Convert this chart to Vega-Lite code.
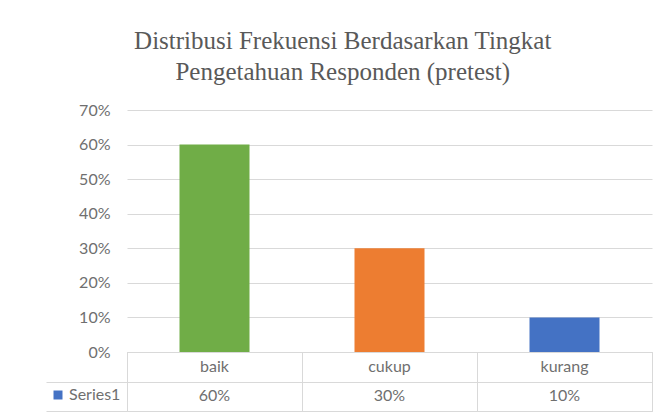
{
  "$schema": "https://vega.github.io/schema/vega-lite/v6.json",
  "padding": {"left": 45, "top": 29, "right": 10, "bottom": 3},
  "background": "white",
  "title": {
    "text": ["Distribusi Frekuensi Berdasarkan Tingkat", "Pengetahuan Responden (pretest)"],
    "font": "Liberation Serif",
    "fontSize": 25,
    "fontWeight": "normal",
    "color": "#595959",
    "lineHeight": 31,
    "offset": 17,
    "dx": -6,
    "anchor": "middle"
  },
  "datasets": {
    "d": [
      {"kategori": "baik", "persen": 0.6},
      {"kategori": "cukup", "persen": 0.3},
      {"kategori": "kurang", "persen": 0.1}
    ]
  },
  "spacing": 0,
  "bounds": "flush",
  "resolve": {"scale": {"fill": "independent", "color": "independent"}, "legend": {"fill": "independent"}},
  "vconcat": [
    {
      "width": 525,
      "height": 242,
      "view": {"stroke": null},
      "data": {"name": "d"},
      "mark": {"type": "bar"},
      "encoding": {
        "x": {
          "field": "kategori",
          "type": "nominal",
          "scale": {"paddingInner": 0.6, "paddingOuter": 0.3},
          "axis": null
        },
        "y": {
          "field": "persen",
          "type": "quantitative",
          "scale": {"domain": [0, 0.7], "nice": false},
          "axis": {
            "values": [0, 0.1, 0.2, 0.3, 0.4, 0.5, 0.6, 0.7],
            "format": ".0%",
            "title": null,
            "domain": false,
            "ticks": false,
            "labelPadding": 17,
            "gridColor": "#d9d9d9",
            "labelFont": "Lato",
            "labelFontSize": 16,
            "labelColor": "#6f6f6f"
          }
        },
        "color": {
          "field": "kategori",
          "type": "nominal",
          "scale": {"range": ["#70AD47", "#ED7D31", "#4472C4"]},
          "legend": null
        }
      }
    },
    {
      "width": 525,
      "height": 59,
      "view": {"stroke": "#d9d9d9"},
      "data": {"name": "d"},
      "layer": [
        {
          "mark": {"type": "text", "font": "Lato", "fontSize": 16, "color": "#6f6f6f"},
          "encoding": {
            "x": {
              "field": "kategori",
              "type": "nominal",
              "scale": {"type": "band", "paddingInner": 0, "paddingOuter": 0},
              "axis": {
                "title": null,
                "labels": false,
                "ticks": false,
                "domain": false,
                "grid": true,
                "tickBand": "extent",
                "gridColor": "#d9d9d9"
              }
            },
            "y": {
              "datum": "cat",
              "type": "nominal",
              "scale": {"type": "band", "domain": ["cat", "val"], "paddingInner": 0, "paddingOuter": 0},
              "axis": {
                "title": null,
                "labels": false,
                "domain": false,
                "grid": true,
                "tickBand": "extent",
                "gridColor": "#d9d9d9",
                "ticks": true,
                "tickSize": 81,
                "tickColor": "#d9d9d9",
                "tickOpacity": {"condition": {"test": "datum.value == null", "value": 0}, "value": 1}
              }
            },
            "text": {"field": "kategori"}
          }
        },
        {
          "mark": {"type": "text", "font": "Lato", "fontSize": 16, "color": "#6f6f6f"},
          "encoding": {
            "x": {"field": "kategori", "type": "nominal"},
            "y": {"datum": "val", "type": "nominal"},
            "text": {"field": "persen", "format": ".0%"}
          }
        },
        {
          "mark": {"type": "square", "opacity": 0},
          "encoding": {
            "y": {"datum": "val", "type": "nominal"},
            "fill": {
              "datum": "Series1",
              "scale": {"range": ["#4472C4"]},
              "legend": {
                "orient": "none",
                "legendX": -77,
                "legendY": 35,
                "title": null,
                "symbolType": "square",
                "symbolSize": 81,
                "symbolOpacity": 1,
                "symbolStrokeWidth": 0,
                "labelFont": "Lato",
                "labelFontSize": 16,
                "labelColor": "#6f6f6f",
                "labelOffset": 3,
                "padding": 0
              }
            }
          }
        }
      ]
    }
  ]
}
